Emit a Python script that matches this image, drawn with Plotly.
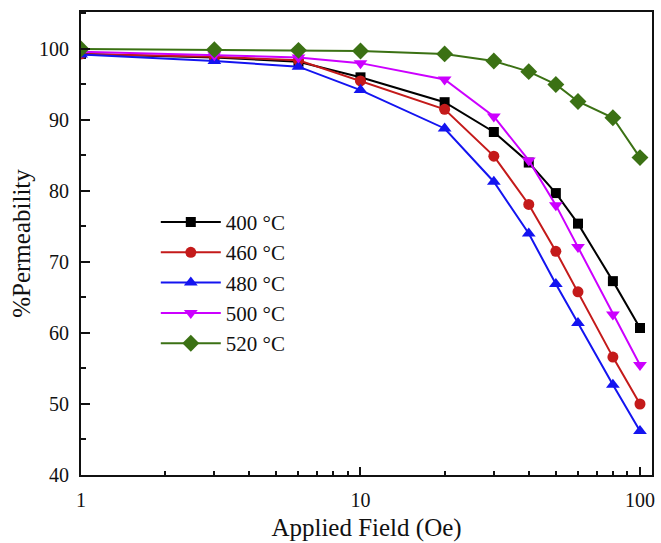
import plotly.graph_objects as go

field = [1, 3, 6, 10, 20, 30, 40, 50, 60, 80, 100]
labels = ["400 \u00b0C", "460 \u00b0C", "480 \u00b0C", "500 \u00b0C", "520 \u00b0C"]
perm_400 = [99.3, 98.8, 98.2, 96.0, 92.5, 88.3, 84.0, 79.7, 75.4, 67.3, 60.7]
perm_460 = [99.3, 98.9, 98.4, 95.5, 91.5, 84.9, 78.1, 71.5, 65.8, 56.6, 50.0]
perm_480 = [99.2, 98.3, 97.5, 94.2, 88.8, 81.3, 74.0, 66.9, 61.4, 52.7, 46.2]
perm_500 = [99.6, 99.1, 98.8, 98.0, 95.7, 90.5, 84.3, 78.0, 72.1, 62.6, 55.5]
perm_520 = [100.0, 99.9, 99.8, 99.7, 99.3, 98.3, 96.8, 95.0, 92.6, 90.3, 84.7]
series = [perm_400, perm_460, perm_480, perm_500, perm_520]

colors = ["#000000", "#c41a1a", "#1414f0", "#cc00ff", "#3b7114"]
symbols = ["square", "circle", "triangle-up", "triangle-down", "diamond"]
sizes = [10, 11, 12, 12, 13]

FONT = "Liberation Serif, Times New Roman, serif"

fig = go.Figure()
for lab, ys, c, s, sz in zip(labels, series, colors, symbols, sizes):
    fig.add_trace(go.Scatter(
        x=field, y=ys, name=lab, mode="lines+markers",
        line=dict(color=c, width=2),
        marker=dict(symbol=s, size=sz, color=c),
    ))

minor_x = [2, 3, 4, 5, 6, 7, 8, 9, 20, 30, 40, 50, 60, 70, 80, 90]

fig.update_layout(
    width=661, height=543,
    margin=dict(l=81, r=6, t=12, b=68),
    paper_bgcolor="white", plot_bgcolor="white",
    font=dict(family=FONT, size=20, color="#111111"),
    showlegend=True,
    legend=dict(
        x=0.131, y=0.59, xanchor="left", yanchor="top",
        font=dict(family=FONT, size=21, color="#111111"),
        bgcolor="rgba(0,0,0,0)", itemwidth=60,
        tracegroupgap=0,
    ),
    xaxis=dict(
        type="log", range=[0, 2.043],
        tickvals=[1, 10, 100], ticktext=["1", "10", "100"],
        ticks="inside", ticklen=8, tickwidth=2, tickcolor="#111111",
        showline=True, linewidth=2, linecolor="#111111", mirror=True,
        showgrid=False, zeroline=False,
        ticklabelstandoff=6,
        minor=dict(tickvals=minor_x, ticks="inside", ticklen=4, tickwidth=2,
                   tickcolor="#111111", showgrid=False),
        title=dict(text="Applied Field (Oe)", font=dict(family=FONT, size=25), standoff=8),
    ),
    yaxis=dict(
        range=[40, 105.2],
        tickvals=[40, 50, 60, 70, 80, 90, 100],
        ticks="inside", ticklen=9, tickwidth=2, tickcolor="#111111",
        showline=True, linewidth=2, linecolor="#111111", mirror=True,
        showgrid=False, zeroline=False,
        ticklabelstandoff=6,
        minor=dict(dtick=5, ticks="inside", ticklen=5, tickwidth=2,
                   tickcolor="#111111", showgrid=False),
        title=dict(text="%Permeability", font=dict(family=FONT, size=25), standoff=1),
    ),
)

fig.write_html("out.html")
